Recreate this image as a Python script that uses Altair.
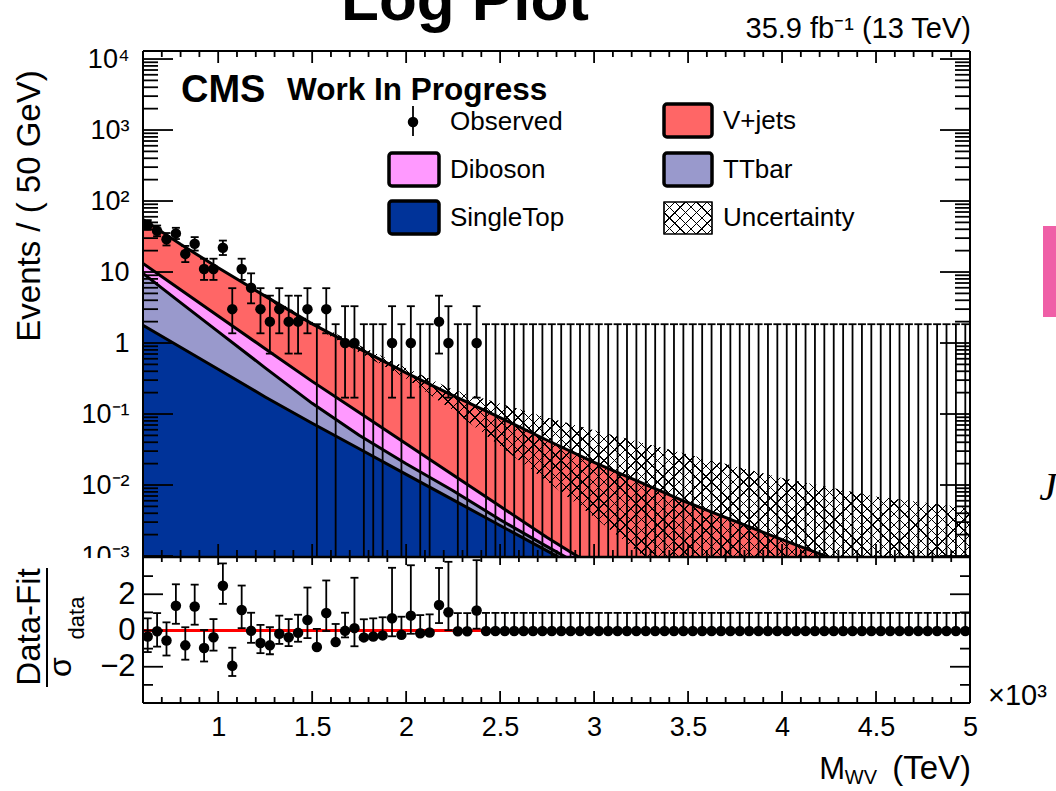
import altair as alt
import numpy as np
import pandas as pd

FONT = "Liberation Sans"
OX, OY = 143, 51          # plot origin on the page (px)
W, H = 827, 652           # full plot area (both panels)
TOP_H = 505               # upper panel height
FLOOR = 1e-4              # off-scale floor for the log panel
YTOP_MAX = 12972.0

# ---------------- data ----------------
bin_centers = [round(0.625 + 0.05 * i, 3) for i in range(88)]
counts = [46, 38, 29, 35, 18, 25, 11, 11, 22, 3, 11, 6, 3, 2, 3, 2, 2, 3,
          0, 3, 0, 1, 1, 0, 0, 0, 1, 0, 1, 0, 0, 2, 1, 0, 0, 1] + [0] * 52
obs_low = [39.24, 31.87, 23.65, 29.12, 13.79, 20.04, 7.74, 7.74, 17.35, 1.37,
           7.74, 3.62, 1.37, 0.71, 1.37, 0.71, 0.71, 1.37, FLOOR, 1.37, FLOOR,
           0.17, 0.17, FLOOR, FLOOR, FLOOR, 0.17, FLOOR, 0.17, FLOOR, FLOOR,
           0.71, 0.17, FLOOR, FLOOR, 0.17] + [FLOOR] * 52
obs_high = [53.82, 45.20, 35.42, 41.95, 23.31, 31.02, 15.40, 15.40, 27.72, 5.92,
            15.40, 9.58, 5.92, 4.64, 5.92, 4.64, 4.64, 5.92, 1.84, 5.92, 1.84,
            3.30, 3.30, 1.84, 1.84, 1.84, 3.30, 1.84, 3.30, 1.84, 1.84,
            4.64, 3.30, 1.84, 1.84, 3.30] + [1.84] * 52

pull = [-0.33, -0.04, -0.55, 1.37, -0.82, 1.32, -0.97, -0.37, 2.47, -1.95,
        1.13, -0.02, -0.69, -0.82, -0.18, -0.37, -0.13, 0.58, -0.91, 0.97,
        -0.64, -0.02, 0.13, -0.38, -0.33, -0.27, 0.68, -0.24, 0.82, -0.15,
        -0.11, 1.41, 1.01, -0.04, -0.04, 1.10] + [-0.03] * 52
pull_up = [1, 1, 1, 1.18, 1, 1.21, 1, 1, 1.23, 1, 1.35, 1, 1, 1, 1, 1, 1, 1.79,
           1, 1.79, 1, 1, 2.78, 1, 1, 1, 2.78, 1, 2.78, 1, 1, 2.04, 2.78, 1, 1,
           2.78] + [1] * 52
pull_dn = [0.86, 0.85, 0.83, 1, 0.79, 1, 0.74, 0.74, 1, 0.56, 1, 0.66, 0.56,
           0.49, 0.56, 0.49, 0.49, 1, 0, 1, 0, 0.36, 1, 0, 0, 0, 1, 0, 1, 0, 0,
           1, 1, 0, 0, 1] + [0] * 52

node_x = [0.6, 0.8, 1.0, 1.25, 1.5, 1.75, 2.0, 2.25, 2.5, 2.75, 3.0, 3.5, 4.0, 4.5, 5.0]
singletop = [1.78, 0.871, 0.427, 0.174, 0.0741, 0.0324, 0.0141, 0.00617, 0.00269,
             0.00118, 0.000513, 1.0e-4, 1.9e-5, 3.6e-6, 6.9e-7]
ttbar = [7.77, 2.84, 1.02, 0.273, 0.0672, 0.0177, 0.00582, 0.00215, 0.00055,
         0.000174, 6.2e-5, 1.2e-5, 2.4e-6, 4e-7, 8e-8]
diboson = [3.63, 1.91, 0.954, 0.385, 0.147, 0.0546, 0.0181, 0.00548, 0.00177,
           0.00047, 0.000133, 2.9e-5, 6.8e-6, 1.5e-6, 3e-7]
vjets = [41.8, 18.9, 9.08, 3.74, 1.574, 0.727, 0.342, 0.168, 0.0841, 0.0409,
         0.0202, 0.00548, 0.00167, 0.000531, 0.000177]

unc_x = [1.25, 1.5, 1.75, 2.0, 2.25, 2.5, 2.75, 3.0, 3.5, 4.0, 4.5, 5.0]
unc_high = [4.9, 2.0, 0.93, 0.447, 0.219, 0.141, 0.089, 0.059, 0.0269, 0.0126, 0.0069, 0.0047]
unc_low = [4.27, 1.74, 0.741, 0.316, 0.112, 0.0355, 0.0112, 0.00355, 0.000316, FLOOR, FLOOR, FLOOR]

x_major = [1.0, 1.5, 2.0, 2.5, 3.0, 3.5, 4.0, 4.5, 5.0]
x_minor = [v for v in [round(0.6 + 0.1 * i, 1) for i in range(45)] if v not in x_major]
ytop_major = [1e-3, 1e-2, 0.1, 1, 10, 100, 1000, 10000]
ytop_minor = [k * 10.0 ** d for d in range(-3, 4) for k in range(2, 10)]
ybot_major = [-2, 0, 2]
ybot_minor = [-3, -1, 1, 3]

legend_labels = ["Observed", "Diboson", "SingleTop", "V+jets", "TTbar", "Uncertainty"]
COL = {"V+jets": "#FF6666", "Diboson": "#FF99FF", "TTbar": "#9999CC", "SingleTop": "#003399"}

# ---------------- tables ----------------
obs = pd.DataFrame({"x": bin_centers, "n": counts, "lo": obs_low, "hi": obs_high})
pdf = pd.DataFrame({"x": bin_centers, "p": pull, "up": pull_up, "dn": pull_dn})
pdf["plo"] = pdf["p"] - pdf["dn"]
pdf["phi"] = pdf["p"] + pdf["up"]
st = pd.DataFrame({"x": node_x, "st": singletop, "tt": ttbar, "db": diboson, "vj": vjets})
st["c_st"] = st["st"]
st["c_tt"] = st["c_st"] + st["tt"]
st["c_db"] = st["c_tt"] + st["db"]
st["c_vj"] = st["c_db"] + st["vj"]
st["floor"] = FLOOR
unc = pd.DataFrame({"x": unc_x, "lo": unc_low, "hi": unc_high})
ONE = pd.DataFrame({"k": [0]})

# ---------------- scales / axes ----------------
xs = alt.Scale(domain=[0.6, 5.0], nice=False, zero=False)
ys_top = alt.Scale(type="log", domain=[1e-3, YTOP_MAX], range=[TOP_H, 0], nice=False)
ys_bot = alt.Scale(domain=[-4, 4], range=[H, TOP_H + 2], nice=False, zero=False)

axis_common = dict(labelFont=FONT, labelColor="black", ticks=False,
                   tickSize=0, domain=False, grid=False, labelOverlap=False,
                   labelFlush=False, title=None)
x_axis = alt.Axis(values=x_major, format="~g", labelPadding=11, labelFontSize=27, **axis_common)
log_expr = ("datum.value < 0.005 ? '10\u207b\u00b3' : datum.value < 0.05 ? '10\u207b\u00b2' : "
            "datum.value < 0.5 ? '10\u207b\u00b9' : datum.value < 5 ? '1' : datum.value < 50 ? '10' : "
            "datum.value < 500 ? '10\u00b2' : datum.value < 5000 ? '10\u00b3' : '10\u2074'")
ytop_axis = alt.Axis(values=ytop_major, labelExpr=log_expr, orient="left", labelPadding=14,
                     labelFontSize=27, **axis_common)
ybot_axis = alt.Axis(values=ybot_major, format="d", orient="left", labelPadding=8,
                     labelFontSize=31, **axis_common)


def X(f):
    return alt.X(f, type="quantitative", scale=xs, axis=x_axis)


def YT(f):
    return alt.Y(f, type="quantitative", scale=ys_top, axis=ytop_axis)


def YB(f):
    return alt.Y(f, type="quantitative", scale=ys_bot, axis=ybot_axis)


def px_x(v):
    return (v - 0.6) / 4.4 * W


def px_ytop(v):
    lo, hi = np.log10(1e-3), np.log10(YTOP_MAX)
    return (hi - np.log10(v)) / (hi - lo) * TOP_H


def hatch_fill(wpx, hpx, direction, spacing=7.6, lw=1.0):
    r = wpx / hpx
    b = (r + 1) / (r * r + 1)
    a = r * b
    D = (wpx + hpx) / 2 ** 0.5
    half = lw / 2 / D
    clear, ink = "rgba(0,0,0,0)", "black"
    stops = [{"offset": 0, "color": clear}]
    t = spacing / D
    while t + half < 1:
        o1, o2 = round(t - half, 5), round(t + half, 5)
        stops += [{"offset": o1, "color": clear}, {"offset": o1, "color": ink},
                  {"offset": o2, "color": ink}, {"offset": o2, "color": clear}]
        t += spacing / D
    stops.append({"offset": 1, "color": clear})
    if direction > 0:
        x1, y1, x2, y2 = 0, 0, a, b
    else:
        x1, y1, x2, y2 = 0, 1, a, 1 - b
    return {"gradient": "linear", "x1": x1, "y1": y1, "x2": x2, "y2": y2, "stops": stops}


def text(s, x, y, size, **kw):
    font = kw.pop("font", FONT)
    return alt.Chart(ONE).mark_text(text=s, fontSize=size, font=font, color="black", **kw).encode(
        x=alt.value(x - OX), y=alt.value(y - OY))


def rect(x0, y0, x1, y1, **kw):
    return alt.Chart(ONE).mark_rect(**kw).encode(
        x=alt.value(x0 - OX), x2=alt.value(x1 - OX), y=alt.value(y0 - OY), y2=alt.value(y1 - OY))


def rule(x0, y0, x1, y1, **kw):
    return alt.Chart(ONE).mark_rule(color="black", **kw).encode(
        x=alt.value(x0 - OX), x2=alt.value(x1 - OX), y=alt.value(y0 - OY), y2=alt.value(y1 - OY))


DOT = 110

# ---------------- upper panel ----------------
top_layers = []
for col, name in [("c_vj", "V+jets"), ("c_db", "Diboson"), ("c_tt", "TTbar"), ("c_st", "SingleTop")]:
    top_layers.append(alt.Chart(st).mark_area(clip=True, color=COL[name], line=False).encode(
        x=X("x"), y=YT(col), y2=alt.Y2("floor")))

bw = px_x(5.0) - px_x(unc_x[0])
bh = px_ytop(min(unc_low)) - px_ytop(max(unc_high))
for d in (1, -1):
    top_layers.append(alt.Chart(unc).mark_area(clip=True, color=hatch_fill(bw, bh, d), line=False).encode(
        x=X("x"), y=YT("hi"), y2=alt.Y2("lo")))

for col in ["c_vj", "c_db", "c_tt", "c_st"]:
    top_layers.append(alt.Chart(st).mark_line(clip=True, color="black", strokeWidth=3).encode(
        x=X("x"), y=YT(col)))

top_layers.append(alt.Chart(obs).mark_rule(clip=True, color="black", strokeWidth=1.8).encode(
    x=X("x"), y=YT("lo"), y2=alt.Y2("hi")))
for f in ["lo", "hi"]:
    top_layers.append(alt.Chart(obs).mark_tick(clip=True, orient="horizontal", size=8, thickness=1.8,
                                               color="black", opacity=1).encode(x=X("x"), y=YT(f)))
top_layers.append(alt.Chart(obs).transform_filter("datum.n > 0").mark_circle(
    clip=True, size=DOT, color="black", opacity=1).encode(x=X("x"), y=YT("n")))

for vals, ln in [(ytop_major, 30), (ytop_minor, 15)]:
    tdf = pd.DataFrame({"t": vals})
    top_layers.append(alt.Chart(tdf).mark_rule(color="black", strokeWidth=1.8).encode(
        y=YT("t"), x=alt.value(0), x2=alt.value(ln)))
    top_layers.append(alt.Chart(tdf).mark_rule(color="black", strokeWidth=1.8).encode(
        y=YT("t"), x=alt.value(W - ln), x2=alt.value(W)))

top_group = alt.layer(*top_layers)

# ---------------- lower panel ----------------
bot_layers = [
    alt.Chart(pd.DataFrame({"z": [0.0]})).mark_rule(color="#FF0000", strokeWidth=2.8).encode(y=YB("z")),
    alt.Chart(pdf).mark_rule(color="black", strokeWidth=1.8).encode(x=X("x"), y=YB("plo"), y2=alt.Y2("phi")),
]
for f in ["plo", "phi"]:
    bot_layers.append(alt.Chart(pdf).mark_tick(orient="horizontal", size=8, thickness=1.8,
                                               color="black", opacity=1).encode(x=X("x"), y=YB(f)))
bot_layers.append(alt.Chart(pdf).mark_circle(size=DOT, color="black", opacity=1).encode(x=X("x"), y=YB("p")))
for vals, ln in [(ybot_major, 20), (ybot_minor, 10)]:
    tdf = pd.DataFrame({"t": vals})
    bot_layers.append(alt.Chart(tdf).mark_rule(color="black", strokeWidth=1.8).encode(
        y=YB("t"), x=alt.value(0), x2=alt.value(ln)))
    bot_layers.append(alt.Chart(tdf).mark_rule(color="black", strokeWidth=1.8).encode(
        y=YB("t"), x=alt.value(W - ln), x2=alt.value(W)))
bot_group = alt.layer(*bot_layers)

# ---------------- x ticks on all horizontal edges ----------------
xtick_layers = []
for vals, edges in [(x_major, [(0, 12), (TOP_H, TOP_H - 12), (TOP_H + 2, TOP_H + 9), (H, H - 12)]),
                    (x_minor, [(0, 6), (TOP_H, TOP_H - 6), (TOP_H + 2, TOP_H + 6), (H, H - 6)])]:
    tdf = pd.DataFrame({"t": vals})
    for y0, y1 in edges:
        xtick_layers.append(alt.Chart(tdf).mark_rule(color="black", strokeWidth=1.8).encode(
            x=X("t"), y=alt.value(y0), y2=alt.value(y1)))

# ---------------- annotations ----------------
ann = [
    text("Log Plot", 465, 20, 62, fontWeight="bold", align="center", baseline="alphabetic"),
    text("35.9 fb\u207b\u00b9 (13 TeV)", 971, 38, 29, align="right", baseline="alphabetic"),
    text("CMS", 181, 102, 38, fontWeight="bold", align="left", baseline="alphabetic"),
    text("Work In Progress", 287, 100, 31.5, fontWeight="bold", align="left", baseline="alphabetic"),
    text("Events / ( 50  GeV)", 30, 206, 33, angle=270, align="center", baseline="middle"),
    text("Data-Fit", 30, 627, 33, angle=270, align="center", baseline="middle"),
    rule(47, 568, 47, 687, strokeWidth=2),
    text("\u03c3", 61, 667, 32, angle=270, align="center", baseline="middle"),
    text("data", 77, 618, 22, angle=270, align="center", baseline="middle"),
    text("(TeV)", 971, 779, 33, align="right", baseline="alphabetic"),
    text("WV", 877, 784, 20, align="right", baseline="alphabetic"),
    text("M", 845, 779, 31, align="right", baseline="alphabetic"),
    text("\u00d710\u00b3", 988, 705, 29, align="left", baseline="alphabetic"),
    text("J", 1048, 488, 40, font="Liberation Serif", fontStyle="italic", align="center", baseline="middle"),
    rect(1043, 226, 1058, 317, color="#EF5FA7"),
]

# legend
leg_pos = {"Observed": (450, 122), "Diboson": (450, 170), "SingleTop": (450, 218),
           "V+jets": (723, 121), "TTbar": (723, 170), "Uncertainty": (723, 218)}
legend = [
    rule(413, 106, 413, 136, strokeWidth=1.8),
    alt.Chart(ONE).mark_circle(size=DOT, color="black", opacity=1).encode(
        x=alt.value(413 - OX), y=alt.value(122 - OY)),
    rect(389, 153, 439, 186, color=COL["Diboson"], stroke="black", strokeWidth=3.5, cornerRadius=3),
    rect(389, 201, 439, 234, color=COL["SingleTop"], stroke="black", strokeWidth=3.5, cornerRadius=3),
    rect(664, 104, 712, 137, color=COL["V+jets"], stroke="black", strokeWidth=3.5, cornerRadius=3),
    rect(664, 153, 712, 186, color=COL["TTbar"], stroke="black", strokeWidth=3.5, cornerRadius=3),
    rect(664, 202, 712, 234, color="white", stroke="black", strokeWidth=1.2),
    rect(664, 202, 712, 234, color=hatch_fill(48, 32, 1)),
    rect(664, 202, 712, 234, color=hatch_fill(48, 32, -1), stroke="black", strokeWidth=1.2),
]
for lab in legend_labels:
    lx, ly = leg_pos[lab]
    legend.append(text(lab, lx, ly, 26, align="left", baseline="middle"))

# cover for the off-scale part of the upper panel and half of the 10^-3 label
cover = [
    rect(OX + 1, OY + TOP_H + 1, OX + W - 1, OY + H - 1, color="white"),
    rect(80, OY + TOP_H + 2, OX - 2, OY + TOP_H + 20, color="white"),
]

frame = [
    rule(OX, OY + TOP_H + 1, OX + W, OY + TOP_H + 1, strokeWidth=2.5),
    rule(OX, OY, OX + W, OY, strokeWidth=2),
    rule(OX, OY + H, OX + W, OY + H, strokeWidth=2),
    rule(OX, OY, OX, OY + H, strokeWidth=2),
    rule(OX + W, OY, OX + W, OY + H, strokeWidth=2),
]

chart = alt.layer(top_group, *cover, bot_group, *xtick_layers, *frame, *ann, *legend).resolve_scale(
    y="independent"
).properties(
    width=W, height=H,
    autosize=alt.AutoSizeParams(type="none"),
    padding={"left": OX, "top": OY, "right": 1056 - OX - W, "bottom": 791 - OY - H},
).configure_view(stroke=None)

chart.save("out.html", embed_options={"renderer": "svg", "actions": False})
